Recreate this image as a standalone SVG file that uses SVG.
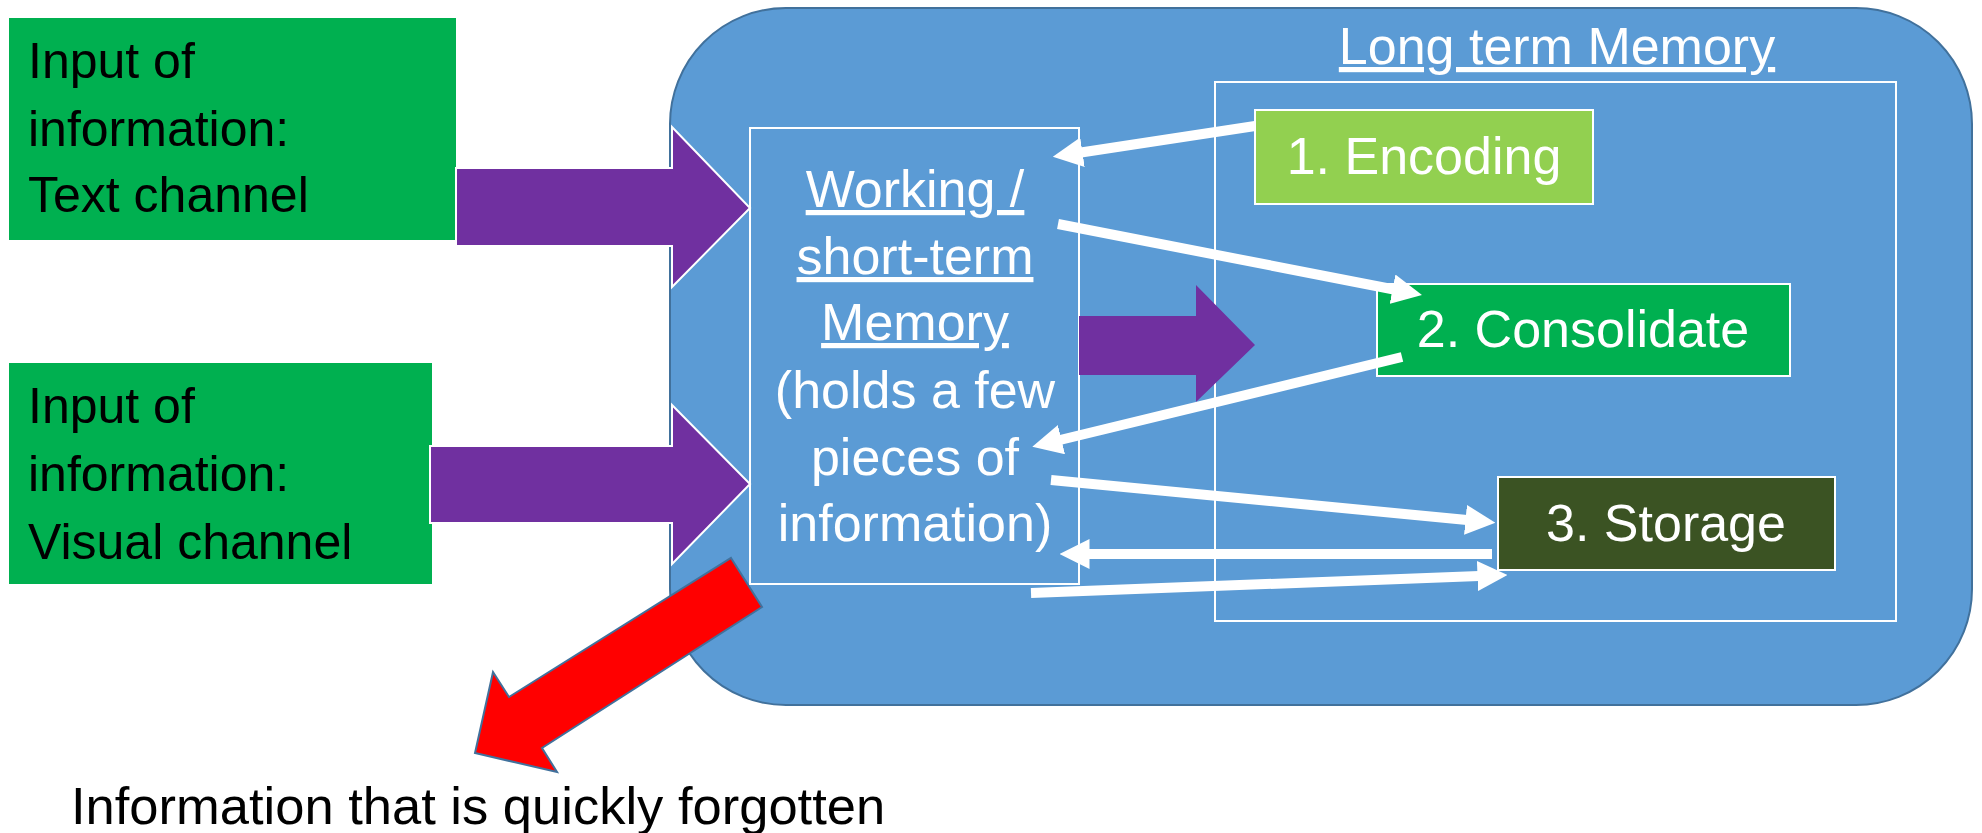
<svg xmlns="http://www.w3.org/2000/svg" width="1982" height="833" viewBox="0 0 1982 833">
<style>
.t{font-family:"Liberation Sans",Arial,sans-serif;font-size:52px}
.s{font-size:50px}
.blk{fill:#000}
.wht{fill:#fff}
.mid{text-anchor:middle}
.u{text-decoration:underline}
.frame{fill:none;stroke:#fff;stroke-width:2}
.purple{fill:#7030A0}
.conn{stroke:#fff;stroke-width:10;fill:none}
</style>
<defs>
<marker id="ah" viewBox="0 0 10 10" refX="0.5" refY="5" markerWidth="3" markerHeight="3" markerUnits="strokeWidth" orient="auto">
<path d="M0,0 L10,5 L0,10 z" fill="#fff"/>
</marker>
</defs>
<rect width="1982" height="833" fill="#fff"/>

<g id="memory-system">
<rect x="670" y="8" width="1302" height="697" rx="116" ry="116" fill="#5B9BD5" stroke="#41719C" stroke-width="2"/>
</g>

<g id="long-term-memory">
<rect class="frame" x="1215" y="82" width="681" height="539"/>
<text class="t wht mid u" x="1557" y="64">Long term Memory</text>
</g>

<g id="working-memory">
<rect class="frame" x="750" y="128" width="329" height="456"/>
<text class="t wht mid u" x="915" y="207">Working /</text>
<text class="t wht mid u" x="915" y="274">short-term</text>
<text class="t wht mid u" x="915" y="340">Memory</text>
<text class="t wht mid" x="915" y="408">(holds a few</text>
<text class="t wht mid" x="915" y="475">pieces of</text>
<text class="t wht mid" x="915" y="541">information)</text>
</g>

<g id="input-text">
<rect x="9" y="18" width="447" height="222" fill="#00B050"/>
<text class="t s blk" x="28" y="78">Input of</text>
<text class="t s blk" x="28" y="146">information:</text>
<text class="t s blk" x="28" y="212">Text channel</text>
</g>

<g id="input-visual">
<rect x="9" y="363" width="423" height="221" fill="#00B050"/>
<text class="t s blk" x="28" y="423">Input of</text>
<text class="t s blk" x="28" y="491">information:</text>
<text class="t s blk" x="28" y="559">Visual channel</text>
</g>

<g id="encoding">
<rect x="1255" y="110" width="338" height="94" fill="#92D050" stroke="#fff" stroke-width="2"/>
<text class="t wht mid" x="1424" y="174">1. Encoding</text>
</g>

<g id="consolidate">
<rect x="1377" y="284" width="413" height="92" fill="#00B050" stroke="#fff" stroke-width="2"/>
<text class="t wht mid" x="1583" y="347">2. Consolidate</text>
</g>

<g id="storage">
<rect x="1498" y="477" width="337" height="93" fill="#3B5323" stroke="#fff" stroke-width="2"/>
<text class="t wht mid" x="1666" y="541">3. Storage</text>
</g>

<g id="forgotten">
<text class="t blk" x="71" y="824" style="font-size:52.5px">Information that is quickly forgotten</text>
</g>

<g id="connectors">
<polygon class="purple" stroke="#fff" stroke-width="2" points="456,168 672,168 672,127 750,208 672,287 672,246 456,246"/>
<polygon class="purple" stroke="#fff" stroke-width="2" points="430,446 672,446 672,405 750,484 672,564 672,523 430,523"/>
<polygon class="purple" points="1079,316 1196,316 1196,285 1255,345 1196,402 1196,375 1079,375"/>
<line class="conn" x1="1255" y1="126" x2="1081" y2="152.5" marker-end="url(#ah)"/>
<line class="conn" x1="1058" y1="224" x2="1394" y2="289.5" marker-end="url(#ah)"/>
<line class="conn" x1="1402" y1="357" x2="1060" y2="440" marker-end="url(#ah)"/>
<line class="conn" x1="1051" y1="480" x2="1467" y2="520" marker-end="url(#ah)"/>
<line class="conn" x1="1492" y1="554" x2="1088" y2="554" marker-end="url(#ah)"/>
<line class="conn" x1="1031" y1="593" x2="1479" y2="576" marker-end="url(#ah)"/>
<polygon fill="#FF0000" stroke="#41719C" stroke-width="2" stroke-linejoin="miter" points="731,558 762,607 542,748 557,772 475,753 493,672 509,697"/>
</g>
</svg>
